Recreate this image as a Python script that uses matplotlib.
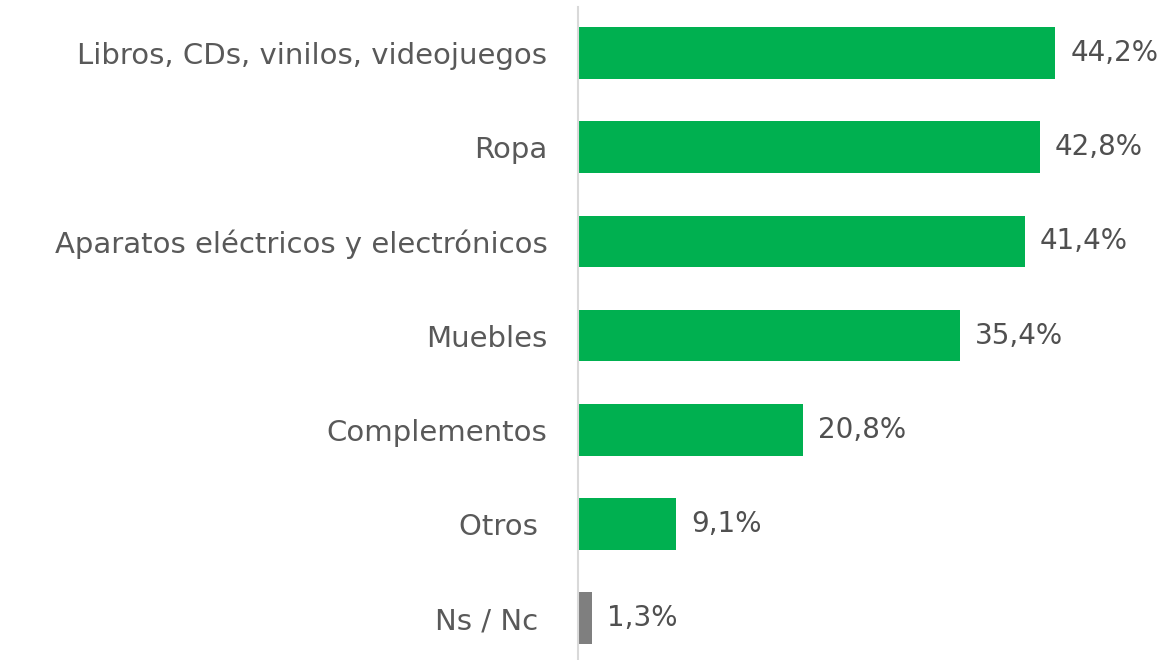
import matplotlib
matplotlib.use("Agg")
import matplotlib.pyplot as plt

categorias = ["Libros, CDs, vinilos, videojuegos", "Ropa",
              "Aparatos eléctricos y electrónicos", "Muebles",
              "Complementos", "Otros ", "Ns / Nc "]
valores = [44.2, 42.8, 41.4, 35.4, 20.8, 9.1, 1.3]
etiquetas = ["44,2%", "42,8%", "41,4%", "35,4%", "20,8%", "9,1%", "1,3%"]
colores = ["#00B050"] * 6 + ["#7F7F7F"]

plt.rcParams['font.family'] = ['DejaVu Sans']

fig = plt.figure(figsize=(11.63, 6.6), dpi=100)
ax = fig.add_axes([578 / 1163, 0, 1 - 578 / 1163, 653 / 660])

pos = range(len(categorias))
ax.barh(pos, valores, height=0.55, color=colores)
for i, (v, t) in enumerate(zip(valores, etiquetas)):
    ax.text(v + 1.4, i, t, va="center", ha="left", fontsize=20, color="#505050")

ax.set_yticks(list(pos))
ax.set_yticklabels(categorias, fontsize=21, color="#595959")
ax.tick_params(axis="y", length=0, pad=22)
ax.set_xticks([])
ax.set_xlim(0, 54.2)
ax.set_ylim(6.446, -0.49)
for s in ["top", "right", "bottom"]:
    ax.spines[s].set_visible(False)
ax.spines["left"].set_color("#D9D9D9")
ax.spines["left"].set_linewidth(1.5)

fig.savefig("out.png", dpi=100)
